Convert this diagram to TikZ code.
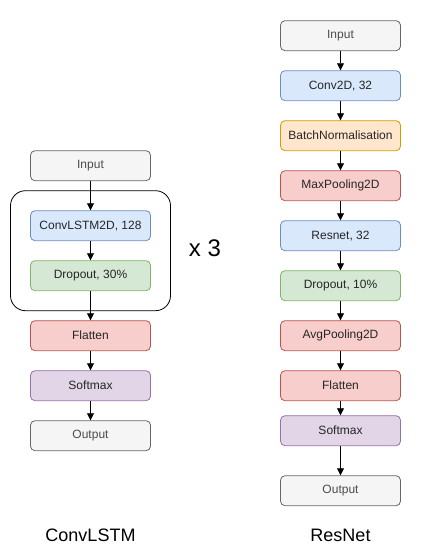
\documentclass[tikz,border=0pt]{standalone}
\usepackage{fontspec}
\setmainfont{Liberation Sans}
\usetikzlibrary{arrows.meta}
\definecolor{gfill}{HTML}{F5F5F5}\definecolor{gdraw}{HTML}{666666}
\definecolor{bfill}{HTML}{DAE8FC}\definecolor{bdraw}{HTML}{6C8EBF}
\definecolor{ofill}{HTML}{FFE6CC}\definecolor{odraw}{HTML}{D79B00}
\definecolor{rfill}{HTML}{F8CECC}\definecolor{rdraw}{HTML}{B85450}
\definecolor{nfill}{HTML}{D5E8D4}\definecolor{ndraw}{HTML}{82B366}
\definecolor{pfill}{HTML}{E1D5E7}\definecolor{pdraw}{HTML}{9673A6}
\tikzset{
  layer/.style={draw, line width=0.8pt, rounded corners=4.5pt, minimum width=120pt, minimum height=30pt,
    inner sep=0pt, font=\fontsize{12pt}{14pt}\selectfont, text=black!85},
  grey/.style={layer, fill=gfill, draw=gdraw, text=black!70},
  blue/.style={layer, fill=bfill, draw=bdraw},
  orange/.style={layer, fill=ofill, draw=odraw},
  red/.style={layer, fill=rfill, draw=rdraw},
  green/.style={layer, fill=nfill, draw=ndraw},
  purple/.style={layer, fill=pfill, draw=pdraw},
  conn/.style={draw, line width=0.8pt, -{Stealth[length=7pt,width=7pt,inset=0pt]}},
  caption/.style={font=\fontsize{18pt}{20pt}\selectfont}
}
\begin{document}
\begin{tikzpicture}[x=1pt,y=-1pt]
\useasboundingbox (0,0) rectangle (421,551);
% container
\draw[line width=0.8pt, rounded corners=15pt] (10.5,190.7) rectangle (170.5,310.7);
% left column
\node[grey]   (lin)   at (90.5,165.7) {Input};
\node[blue]   (lconv) at (90.5,225.7) {ConvLSTM2D, 128};
\node[green]  (ldrop) at (90.5,275.7) {Dropout, 30\%};
\node[red]    (lflat) at (90.5,335.7) {Flatten};
\node[purple] (lsoft) at (90.5,385.7) {Softmax};
\node[grey]   (lout)  at (90.5,435.7) {Output};
\node[font=\fontsize{24pt}{26pt}\selectfont] (times) at (205,248) {x 3};
\node[caption] (lcap) at (90.5,535) {ConvLSTM};
\draw[conn] (lin) -- (lconv);
\draw[conn] (lconv) -- (ldrop);
\draw[conn] (ldrop) -- (lflat);
\draw[conn] (lflat) -- (lsoft);
\draw[conn] (lsoft) -- (lout);
% right column
\node[grey]   (rin)   at (340.5,35.7) {Input};
\node[blue]   (rconv) at (340.5,85.7) {Conv2D, 32};
\node[orange] (rbn)   at (340.5,135.7) {BatchNormalisation};
\node[red]    (rmax)  at (340.5,185.7) {MaxPooling2D};
\node[blue]   (rres)  at (340.5,235.7) {Resnet, 32};
\node[green]  (rdrop) at (340.5,285.7) {Dropout, 10\%};
\node[red]    (ravg)  at (340.5,335.7) {AvgPooling2D};
\node[red]    (rflat) at (340.5,385.7) {Flatten};
\node[purple] (rsoft) at (340.5,430.7) {Softmax};
\node[grey]   (rout)  at (340.5,490.7) {Output};
\node[caption] (rcap) at (340.5,535) {ResNet};
\draw[conn] (rin) -- (rconv);
\draw[conn] (rconv) -- (rbn);
\draw[conn] (rbn) -- (rmax);
\draw[conn] (rmax) -- (rres);
\draw[conn] (rres) -- (rdrop);
\draw[conn] (rdrop) -- (ravg);
\draw[conn] (ravg) -- (rflat);
\draw[conn] (rflat) -- (rsoft);
\draw[conn] (rsoft) -- (rout);
\end{tikzpicture}
\end{document}
